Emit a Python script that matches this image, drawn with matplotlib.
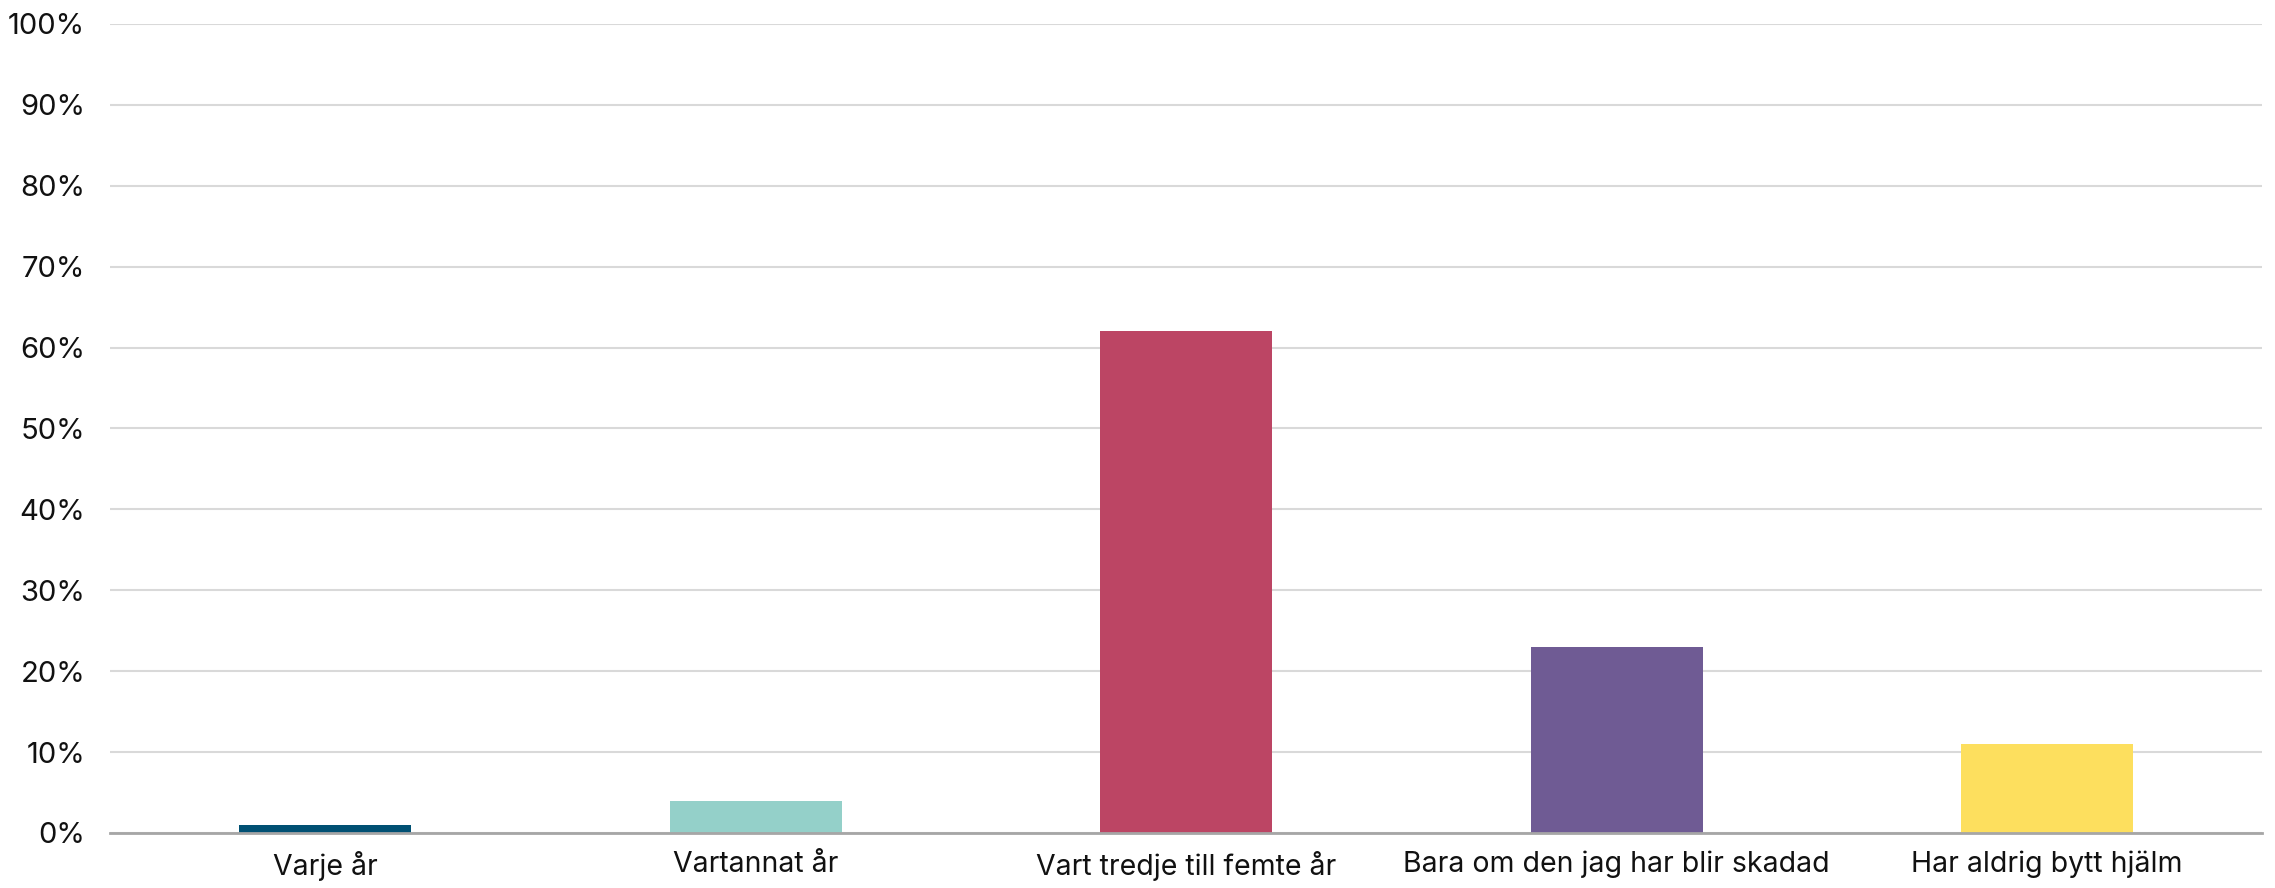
import matplotlib
matplotlib.use("Agg")
import matplotlib.pyplot as plt
from matplotlib.ticker import PercentFormatter

plt.rcParams["font.family"] = ["Inter", "DejaVu Sans"]

categories = ["Varje år", "Vartannat år", "Vart tredje till femte år",
              "Bara om den jag har blir skadad", "Har aldrig bytt hjälm"]
values = [1, 4, 62, 23, 11]
colors = ["#005073", "#94D0C9", "#BC4564", "#6F5B94", "#FDDF5E"]

fig = plt.figure(figsize=(22.75, 8.88), dpi=100)
ax = fig.add_axes([0.0484, 0.062, 0.946, 0.911])

ax.bar(range(len(categories)), values, width=0.4, color=colors, zorder=3)

ax.set_xlim(-0.5, len(categories) - 0.5)
ax.set_ylim(0, 100)
ax.set_yticks(range(0, 101, 10))
ax.yaxis.set_major_formatter(PercentFormatter(decimals=0))
ax.set_xticks(range(len(categories)))
ax.set_xticklabels(categories)

ax.grid(axis="y", color="#D9D9D9", linewidth=1.5, zorder=0)
for s in ["top", "right", "left"]:
    ax.spines[s].set_visible(False)
ax.spines["bottom"].set_color("#A6A6A6")
ax.spines["bottom"].set_linewidth(2)
ax.spines["bottom"].set_zorder(4)

ax.tick_params(axis="y", length=0, pad=18, labelsize=21, labelcolor="#111111")
ax.tick_params(axis="x", length=0, pad=13, labelsize=20.5, labelcolor="#111111")

fig.savefig("out.png", dpi=100)
